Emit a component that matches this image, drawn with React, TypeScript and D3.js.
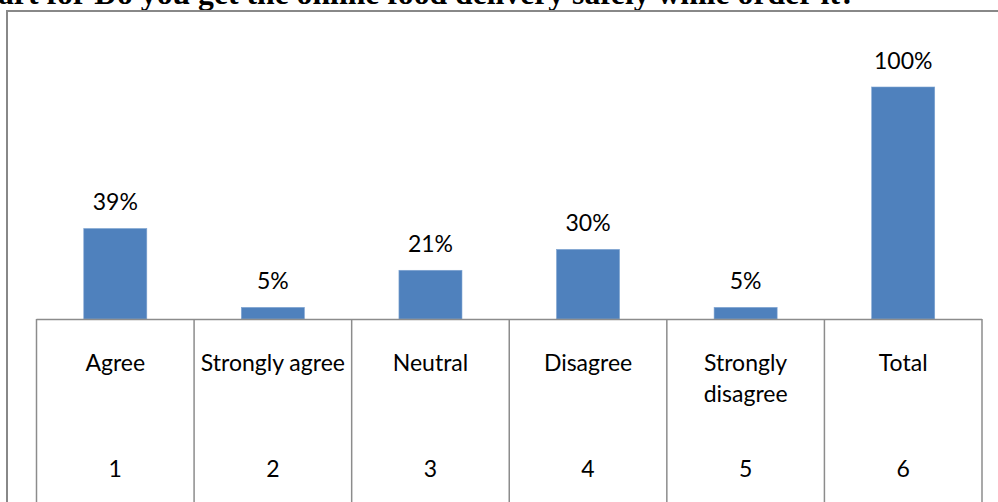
import React from "react";
import * as d3 from "d3";

const categories = ["Agree", "Strongly agree", "Neutral", "Disagree", "Strongly disagree", "Total"];
const categoryLines = [["Agree"], ["Strongly agree"], ["Neutral"], ["Disagree"], ["Strongly", "disagree"], ["Total"]];
const indexLabels = ["1", "2", "3", "4", "5", "6"];
const values = [0.39, 0.05, 0.21, 0.30, 0.05, 1.0];
const valueLabels = ["39%", "5%", "21%", "30%", "5%", "100%"];
const title = "art for Do you get the online food delivery safely while order it?";

const W = 998;
const H = 502;

export default function App() {
  const x = d3.scaleBand<string>().domain(categories).range([36.5, 982]).paddingInner(0).paddingOuter(0);
  const y = d3.scaleLinear().domain([0, 1]).range([319, 87]);
  const barW = x.bandwidth() * 0.4;
  const font = "Lato, 'Open Sans', sans-serif";
  const lineColor = "#8c8c8c";
  const edges = categories.map((c) => x(c) as number).concat([x.range()[1]]);
  const fs = 23;

  return (
    <svg width={W} height={H} style={{ position: "absolute", left: 0, top: 0, background: "#fff" }}>
      <text x={-2} y={3.5} fontFamily="'Liberation Serif', 'Times New Roman', serif" fontWeight="bold" fontSize={31.7} fill="#000">
        {title}
      </text>
      {/* outer frame */}
      <line x1={6} y1={11} x2={W} y2={11} stroke="#888" strokeWidth={2} />
      <line x1={7} y1={11} x2={7} y2={H} stroke="#888" strokeWidth={2} />
      {/* bars */}
      {categories.map((c, i) => {
        const cx = (x(c) as number) + x.bandwidth() / 2;
        return (
          <g key={c}>
            <rect x={cx - barW / 2} y={y(values[i])} width={barW} height={y(0) - y(values[i])} fill="#4F81BD" stroke="#7ea3d1" strokeWidth={0.6} />
            <text x={cx} y={y(values[i]) - 18.5} textAnchor="middle" fontFamily={font} fontSize={fs} fill="#000">
              {valueLabels[i]}
            </text>
          </g>
        );
      })}
      {/* table */}
      <line x1={edges[0]} y1={319.5} x2={edges[edges.length - 1]} y2={319.5} stroke={lineColor} strokeWidth={1.5} />
      {edges.map((e, i) => (
        <line key={i} x1={e} y1={319} x2={e} y2={H} stroke={lineColor} strokeWidth={1.5} />
      ))}
      {categories.map((c, i) => {
        const cx = (x(c) as number) + x.bandwidth() / 2;
        return (
          <g key={c + "t"}>
            {categoryLines[i].map((ln, j) => (
              <text key={j} x={cx} y={371 + j * 31} textAnchor="middle" fontFamily={font} fontSize={fs} fill="#000">
                {ln}
              </text>
            ))}
            <text x={cx} y={477} textAnchor="middle" fontFamily={font} fontSize={fs} fill="#000">
              {indexLabels[i]}
            </text>
          </g>
        );
      })}
    </svg>
  );
}
